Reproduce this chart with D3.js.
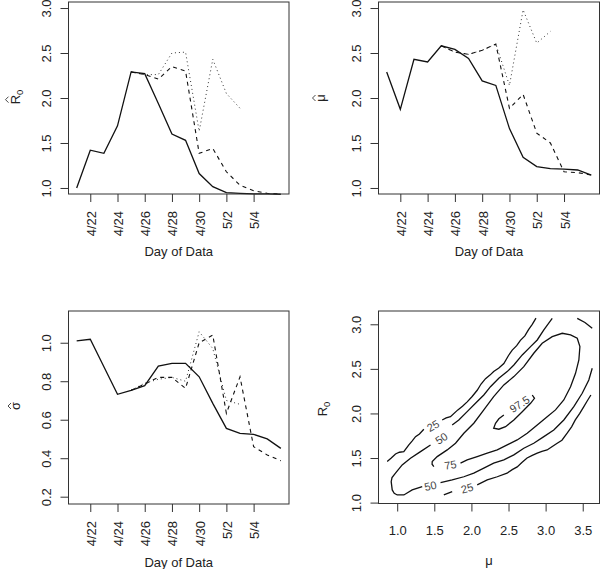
<!DOCTYPE html>
<html><head><meta charset="utf-8">
<script src="https://cdn.jsdelivr.net/npm/d3@7"></script>
<style>
body{margin:0;background:#fff}
svg{display:block}
text{font-family:"Liberation Sans",Arial,sans-serif}
</style>
</head><body>
<svg id="c" width="600" height="569"></svg>
<script>
// ---------------- data ----------------
const days = ["4/21","4/22","4/23","4/24","4/25","4/26","4/27","4/28","4/29","4/30","5/1","5/2","5/3","5/4","5/5","5/6"];
const tickDays = ["4/22","4/24","4/26","4/28","4/30","5/2","5/4"];

const r0Solid  = [1.00,1.42,1.385,1.69,2.29,2.27,1.94,1.60,1.53,1.16,1.015,0.948,0.94,0.935,0.935,0.93];
const r0Dashed = [null,null,null,null,2.29,2.26,2.21,2.35,2.30,1.385,1.44,1.18,1.03,0.97,0.94,0.935];
const r0Dotted = [null,null,null,null,2.29,2.26,2.26,2.50,2.51,1.63,2.43,2.05,1.886,null,null,null];

const muSolid  = [2.29,1.874,2.43,2.40,2.58,2.54,2.44,2.19,2.14,1.66,1.34,1.237,1.215,1.21,1.20,1.144];
const muDashed = [null,null,null,null,2.58,2.51,2.485,2.53,2.60,1.885,2.04,1.61,1.50,1.18,1.17,1.144];
const muDotted = [null,null,null,null,2.58,2.51,2.485,2.53,2.60,2.14,2.98,2.61,2.74,null,null,null];

const sgSolid  = [1.01,1.018,0.875,0.732,0.753,0.777,0.879,0.893,0.893,0.823,0.685,0.555,0.529,0.524,0.50,0.451];
const sgDashed = [null,null,null,null,0.753,0.785,0.82,0.82,0.763,1.00,1.04,0.633,0.823,0.46,0.417,0.387];
const sgDotted = [null,null,null,null,0.753,0.79,0.81,0.82,0.80,1.057,0.97,0.70,0.68,null,null,null];

const r0Ticks = [1.0,1.5,2.0,2.5,3.0];
const sgTicks = [0.2,0.4,0.6,0.8,1.0];
const muTicks = [1.0,1.5,2.0,2.5,3.0,3.5];

// contour lines: [mu, R0] points, pieces split at label gaps
const contour25 = [
  [[0.865,1.46],[0.92,1.50],[0.977,1.546],[1.03,1.565],[1.089,1.572],[1.157,1.647],[1.20,1.69],[1.247,1.74],[1.30,1.77],[1.359,1.823]],
  [[1.606,1.927],[1.66,1.95],[1.718,1.964],[1.817,2.04],[1.88,2.08],[1.943,2.13],[2.01,2.19],[2.078,2.26],[2.13,2.33],[2.19,2.39],[2.25,2.43],[2.30,2.47],[2.37,2.51],[2.437,2.56],[2.50,2.65],[2.55,2.71],[2.61,2.76],[2.66,2.82],[2.72,2.87],[2.77,2.94],[2.82,3.00],[2.87,3.07]],
  [[1.628,1.086],[1.741,1.123]],
  [[2.078,1.198],[2.213,1.254],[2.348,1.29],[2.48,1.33],[2.55,1.37],[2.617,1.40],[2.68,1.45],[2.75,1.50],[2.82,1.53],[2.887,1.554],[2.95,1.575],[3.02,1.59],[3.09,1.63],[3.156,1.666],[3.22,1.70],[3.29,1.778],[3.35,1.85],[3.40,1.927],[3.46,2.00],[3.515,2.076],[3.56,2.14],[3.61,2.207]],
  [[3.426,3.067],[3.53,3.02],[3.628,2.955]]
];
const contour50 = [
  [[3.089,3.067],[3.03,3.00],[2.976,2.936],[2.887,2.824],[2.797,2.749],[2.685,2.656],[2.572,2.544],[2.482,2.469],[2.369,2.394],[2.257,2.30],[2.167,2.207],[2.055,2.114],[1.943,2.02],[1.83,1.927],[1.741,1.871]],
  [[1.449,1.647],[1.314,1.572],[1.179,1.498],[1.067,1.423],[0.977,1.33],[0.93,1.28],[0.919,1.235],[0.933,1.142],[0.96,1.105],[1.0,1.086],[1.09,1.086],[1.202,1.142],[1.337,1.179]],
  [[1.584,1.224],[1.741,1.254],[1.898,1.29],[2.032,1.33],[2.167,1.386],[2.30,1.442],[2.437,1.479],[2.572,1.535],[2.706,1.61],[2.84,1.666],[2.976,1.74],[3.11,1.815],[3.245,1.927],[3.38,2.076],[3.493,2.226],[3.582,2.376],[3.628,2.507]]
];
const contour75 = [
  [[1.494,1.404],[1.47,1.43],[1.472,1.46],[1.539,1.516],[1.674,1.591],[1.786,1.666],[1.898,1.778],[2.032,1.89],[2.167,2.04],[2.30,2.188],[2.437,2.32],[2.572,2.413],[2.706,2.525],[2.84,2.675],[2.954,2.787],[3.089,2.861],[3.224,2.899],[3.336,2.88],[3.426,2.843],[3.462,2.749],[3.448,2.60],[3.403,2.45],[3.336,2.30],[3.245,2.151],[3.133,2.04],[3.021,1.964],[2.887,1.871],[2.752,1.778],[2.617,1.703],[2.482,1.647],[2.348,1.591],[2.213,1.554],[2.078,1.516],[1.943,1.479],[1.853,1.442]]
];
const contour975 = [
  [[2.437,1.983],[2.37,1.94],[2.325,1.89],[2.30,1.834],[2.37,1.823],[2.46,1.852],[2.572,1.927],[2.685,2.02],[2.797,2.114],[2.85,2.17],[2.82,2.207]]
];
const contourLabels = [
  {t:"25",  mu:1.485, r:1.86,  a:-30},
  {t:"50",  mu:1.597, r:1.72,  a:-33},
  {t:"75",  mu:1.718, r:1.423, a:-9},
  {t:"50",  mu:1.449, r:1.187, a:-12},
  {t:"25",  mu:1.943, r:1.161, a:-16},
  {t:"97.5",mu:2.648, r:2.103, a:-33}
];

// ---------------- drawing ----------------
const svg = d3.select("#c");
const FS = 13, INK = "#222", AX = "#333";

function styleAxis(g){
  g.select(".domain").remove();
  g.selectAll(".tick line").attr("stroke",AX);
  g.selectAll(".tick text").attr("fill",INK).attr("font-size",FS)
    .attr("font-family",'"Liberation Sans",Arial,sans-serif');
}

function box(x0,x1,y0,y1){
  svg.append("rect").attr("x",x0).attr("y",y0).attr("width",x1-x0).attr("height",y1-y0)
    .attr("fill","none").attr("stroke",AX).attr("stroke-width",1);
}

function yLabel(cx, cy, main, sub, hat, lower){
  const g = svg.append("g").attr("transform",`translate(${cx},${cy}) rotate(-90)`);
  const t = g.append("text").attr("font-size",FS).attr("fill",INK).attr("x",0).attr("y",0);
  t.append("tspan").text(main);
  if(sub) t.append("tspan").text(sub).attr("font-size",9.5).attr("dy",3);
  const w = t.node().getComputedTextLength();
  t.attr("x",-w/2);
  if(hat){
    const cw = t.node().getSubStringLength(0,1);
    const c = -w/2 + cw/2;
    const b = lower ? -9 : -11, top = lower ? -12 : -14;
    g.append("path").attr("d",`M${c-3},${b}L${c},${top}L${c+3},${b}`)
      .attr("fill","none").attr("stroke",AX).attr("stroke-width",0.9);
  }
}

function xTitle(cx, by, txt){
  svg.append("text").attr("x",cx).attr("y",by).attr("text-anchor","middle")
    .attr("font-size",FS).attr("fill",INK).text(txt);
}

function timePanel(o){
  const x = d3.scaleLinear().domain([-0.6,15.6]).range([o.x0,o.x1]);
  const y = d3.scaleLinear().domain(o.yd).range([o.y1,o.y0]);
  const line = d3.line().defined(d=>d[1]!=null).x(d=>x(d[0])).y(d=>y(d[1]));
  const series = [
    {v:o.dotted, dash:"1,3", w:1, c:"#333"},
    {v:o.dashed, dash:"4,4", w:1.1, c:"#111"},
    {v:o.solid,  dash:null,  w:1.3, c:"#111"}
  ];
  series.forEach(s=>{
    svg.append("path").datum(s.v.map((v,i)=>[i,v])).attr("d",line)
      .attr("fill","none").attr("stroke",s.c).attr("stroke-width",s.w)
      .attr("stroke-dasharray",s.dash);
  });
  const xa = svg.append("g").attr("transform",`translate(0,${o.y1})`)
    .call(d3.axisBottom(x).tickValues(tickDays.map(d=>days.indexOf(d)))
      .tickFormat(i=>days[i]).tickSize(8).tickSizeOuter(0));
  styleAxis(xa);
  xa.selectAll(".tick text").attr("transform","rotate(-90)")
    .attr("x",-17).attr("y",5).attr("dy",null).attr("text-anchor","end");
  const ya = svg.append("g").attr("transform",`translate(${o.x0},0)`)
    .call(d3.axisLeft(y).tickValues(o.yt).tickFormat(d3.format(".1f")).tickSize(8).tickSizeOuter(0));
  styleAxis(ya);
  ya.selectAll(".tick text").attr("transform","rotate(-90)")
    .attr("x",0).attr("y",-18).attr("dy",null).attr("text-anchor","middle");
  box(o.x0,o.x1,o.y0,o.y1);
  xTitle((o.x0+o.x1)/2, o.ty, "Day of Data");
}

// top-left: R0 hat
timePanel({x0:68.5,x1:289,y0:2,y1:194,yd:[0.933,3.067],yt:r0Ticks,
  solid:r0Solid,dashed:r0Dashed,dotted:r0Dotted,ty:255.5});
yLabel(19.5,97,"R","0",true,false);

// top-right: mu hat
timePanel({x0:378.5,x1:599.5,y0:2,y1:194,yd:[0.933,3.067],yt:r0Ticks,
  solid:muSolid,dashed:muDashed,dotted:muDotted,ty:255.5});
yLabel(324.5,98,"\u03bc",null,true,true);

// bottom-left: sigma hat
timePanel({x0:68.5,x1:289,y0:311,y1:504,yd:[0.162,1.165],yt:sgTicks,
  solid:sgSolid,dashed:sgDashed,dotted:sgDotted,ty:567});
yLabel(20,406,"\u03c3",null,true,true);

// bottom-right: contour
(function(){
  const x0=378.5,x1=599.5,y0=311,y1=503.5;
  const x = d3.scaleLinear().domain([0.748,3.726]).range([x0,x1]);
  const y = d3.scaleLinear().domain([0.99,3.149]).range([y1,y0]);
  const line = d3.line().x(d=>x(d[0])).y(d=>y(d[1])).curve(d3.curveLinear);
  const clip = svg.append("clipPath").attr("id","cp").append("rect")
    .attr("x",x0).attr("y",y0).attr("width",x1-x0).attr("height",y1-y0);
  const g = svg.append("g").attr("clip-path","url(#cp)");
  [contour25,contour50,contour75,contour975].forEach(c=>{
    c.forEach(piece=>{
      g.append("path").datum(piece).attr("d",line).attr("fill","none")
        .attr("stroke","#111").attr("stroke-width",1.3);
    });
  });
  contourLabels.forEach(l=>{
    svg.append("text").attr("transform",`translate(${x(l.mu)},${y(l.r)}) rotate(${l.a})`)
      .attr("text-anchor","middle").attr("dy","0.35em").attr("font-size",11)
      .attr("fill","#444").text(l.t);
  });
  const xa = svg.append("g").attr("transform",`translate(0,${y1})`)
    .call(d3.axisBottom(x).tickValues(muTicks).tickFormat(d3.format(".1f")).tickSize(8).tickSizeOuter(0));
  styleAxis(xa);
  xa.selectAll(".tick text").attr("y",31).attr("dy",null);
  const ya = svg.append("g").attr("transform",`translate(${x0},0)`)
    .call(d3.axisLeft(y).tickValues(r0Ticks).tickFormat(d3.format(".1f")).tickSize(8).tickSizeOuter(0));
  styleAxis(ya);
  ya.selectAll(".tick text").attr("transform","rotate(-90)")
    .attr("x",0).attr("y",-18).attr("dy",null).attr("text-anchor","middle");
  box(x0,x1,y0,y1);
  xTitle((x0+x1)/2, 565, "\u03bc");
  yLabel(326.5,409,"R","0",false,false);
})();
</script>
</body></html>
